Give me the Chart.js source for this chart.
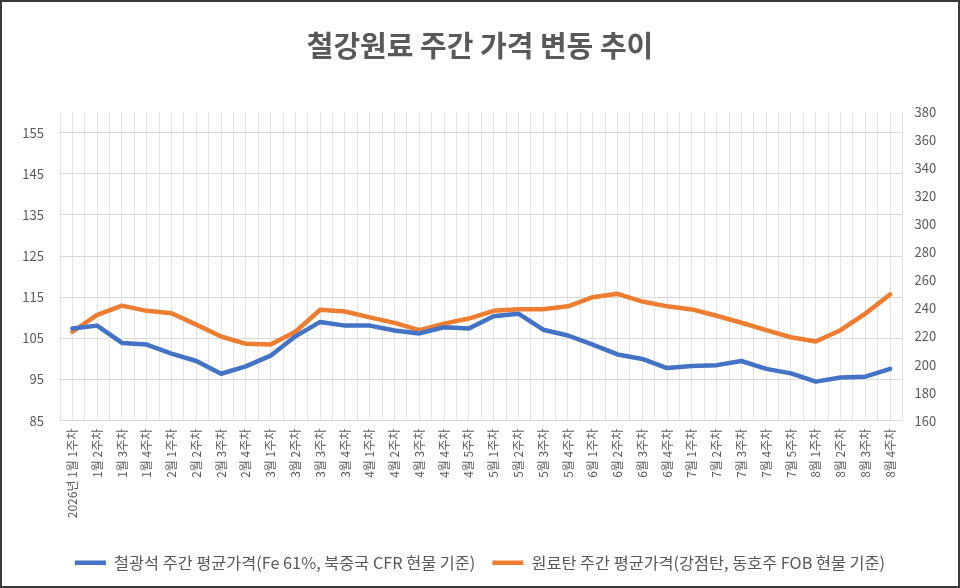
<!DOCTYPE html>
<html>
<head>
<meta charset="utf-8">
<script src="https://cdn.jsdelivr.net/npm/chart.js@4.4.1/dist/chart.umd.min.js"></script>
<style>
  html, body { margin: 0; padding: 0; background: #fff; }
  #wrap { position: relative; width: 960px; height: 588px; }
</style>
</head>
<body>
<div id="wrap"><canvas id="myChart"></canvas></div>
<script>
var weeks = [
    '2026년 1월 1주차', '1월 2주차', '1월 3주차', '1월 4주차',
    '2월 1주차', '2월 2주차', '2월 3주차', '2월 4주차',
    '3월 1주차', '3월 2주차', '3월 3주차', '3월 4주차',
    '4월 1주차', '4월 2주차', '4월 3주차', '4월 4주차', '4월 5주차',
    '5월 1주차', '5월 2주차', '5월 3주차', '5월 4주차',
    '6월 1주차', '6월 2주차', '6월 3주차', '6월 4주차',
    '7월 1주차', '7월 2주차', '7월 3주차', '7월 4주차', '7월 5주차',
    '8월 1주차', '8월 2주차', '8월 3주차', '8월 4주차'
];

// 철광석 (left axis)
var ironOre = [
    107.4, 108.1, 103.9, 103.5, 101.3, 99.5, 96.4, 98.2,
    100.8, 105.5, 109.0, 108.1, 108.1, 106.9, 106.2, 107.7, 107.4,
    110.4, 111.0, 107.1, 105.7, 103.5, 101.1, 100.0, 97.8,
    98.3, 98.5, 99.5, 97.6, 96.5, 94.5, 95.5, 95.7, 97.6
];

// 원료탄 (right axis)
var cokingCoal = [
    223.4, 235.4, 242.0, 238.3, 236.6, 228.5, 220.0, 214.8,
    214.3, 223.4, 239.1, 237.8, 233.6, 229.7, 224.5, 229.2, 232.8,
    238.3, 239.5, 239.5, 241.5, 248.0, 250.4, 244.9, 241.5,
    239.3, 234.8, 229.8, 224.5, 219.5, 216.4, 224.5, 236.3, 250.0
];

var leftTicks = [85, 95, 105, 115, 125, 135, 145, 155];
var rightTicks = [160, 180, 200, 220, 240, 260, 280, 300, 320, 340, 360, 380];

var seriesNames = [
    '철광석 주간 평균가격(Fe 61%, 북중국 CFR 현물 기준)',
    '원료탄 주간 평균가격(강점탄, 동호주 FOB 현물 기준)'
];

Chart.defaults.font.family = "'Noto Sans CJK KR', 'Noto Sans', sans-serif";
Chart.defaults.color = '#595959';

// thin frame round the whole chart
var framePlugin = {
    id: 'frame',
    afterDraw: function (chart) {
        var c = chart.ctx;
        c.save();
        c.strokeStyle = '#3a3a3a';
        c.lineWidth = 2;
        c.strokeRect(1, 1, chart.width - 2, chart.height - 2);
        c.restore();
    }
};

const ctx = document.getElementById('myChart');

new Chart(ctx, {
    type: 'line',
    data: {
        labels: weeks,
        datasets: [{
            label: seriesNames[0],
            data: ironOre,
            yAxisID: 'y',
            borderColor: '#4472C4',
            backgroundColor: '#4472C4',
            borderWidth: 4.5,
            pointRadius: 0,
            borderJoinStyle: 'round',
            borderCapStyle: 'round'
        }, {
            label: seriesNames[1],
            data: cokingCoal,
            yAxisID: 'y1',
            borderColor: '#ED7D31',
            backgroundColor: '#ED7D31',
            borderWidth: 4.5,
            pointRadius: 0,
            borderJoinStyle: 'round',
            borderCapStyle: 'round'
        }]
    },
    options: {
        responsive: true,
        maintainAspectRatio: false,
        animation: false,
        layout: {
            padding: { left: 0, right: 0, top: 0, bottom: 7 }
        },
        scales: {
            x: {
                type: 'category',
                position: 'bottom',
                offset: true,
                grid: { offset: false, color: '#e3e3e3', drawTicks: false },
                border: { display: true, color: '#d9d9d9' },
                ticks: {
                    autoSkip: false,
                    minRotation: 90,
                    maxRotation: 90,
                    padding: 8,
                    font: { size: 12 },
                    color: '#595959'
                },
                afterFit: function (s) { s.height = 117; }
            },
            xg: {
                type: 'category',
                position: 'bottom',
                offset: true,
                grid: { offset: true, color: '#e3e3e3', drawTicks: false },
                border: { display: false },
                ticks: { display: false },
                afterFit: function (s) { s.height = 0; }
            },
            y: {
                position: 'left',
                min: 85,
                max: 160,
                afterBuildTicks: function (s) {
                    s.ticks = leftTicks.map(function (v) { return { value: v }; });
                },
                grid: { color: '#d9d9d9', drawTicks: false },
                border: { display: false },
                ticks: { padding: 16, font: { size: 13 }, color: '#595959' },
                afterFit: function (s) { s.width = 60; }
            },
            y1: {
                position: 'right',
                min: 160,
                max: 380,
                afterBuildTicks: function (s) {
                    s.ticks = rightTicks.map(function (v) { return { value: v }; });
                },
                grid: { drawOnChartArea: false, drawTicks: false },
                border: { display: false },
                ticks: { padding: 12, font: { size: 13 }, color: '#595959' },
                afterFit: function (s) { s.width = 57.5; }
            }
        },
        plugins: {
            title: {
                display: true,
                text: '철강원료 주간 가격 변동 추이',
                color: '#595959',
                font: { size: 29, weight: 'bold' },
                padding: { top: 29, bottom: 48.2 }
            },
            legend: {
                display: true,
                position: 'bottom',
                labels: {
                    usePointStyle: true,
                    pointStyle: 'line',
                    pointStyleWidth: 31,
                    padding: 17,
                    color: '#595959',
                    font: { size: 16.3 }
                }
            },
            tooltip: { enabled: false }
        }
    },
    plugins: [framePlugin]
});
</script>
</body>
</html>
